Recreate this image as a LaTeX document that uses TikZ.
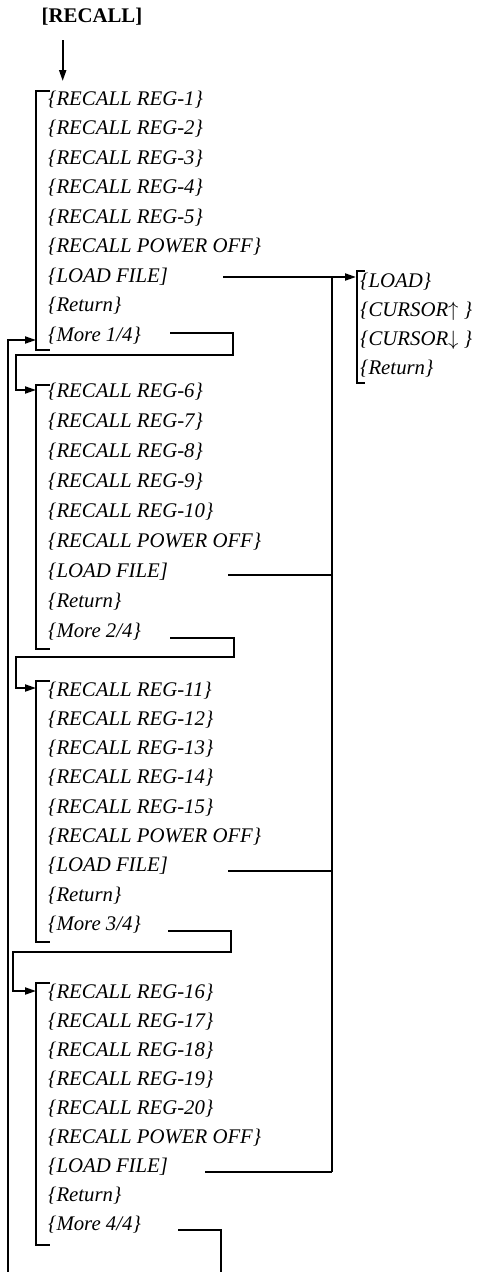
\documentclass[tikz,border=0pt]{standalone}
\usepackage{fontspec}
\setmainfont{Liberation Serif}
\usetikzlibrary{arrows.meta}
\newcommand\mkgroup[5]{%
  \foreach \k in {0,...,4}{%
    \pgfmathtruncatemacro\regno{#4+\k}%
    \node[item] (#1-\k) at (48,{#2+7+\k*#3}) {\{RECALL REG-\regno\}};}
  \node[item] (#1-5) at (48,{#2+7+5*#3}) {\{RECALL POWER OFF\}};
  \node[item] (#1-6) at (48,{#2+7+6*#3}) {\{LOAD FILE]};
  \node[item] (#1-7) at (48,{#2+7+7*#3}) {\{Return\}};
  \node[item] (#1-8) at (48,{#2+7+8*#3}) {\{More #5\}};
}
\begin{document}
\begin{tikzpicture}[x=1pt,y=-1pt,
  item/.style={anchor=base west,inner sep=0pt,font=\fontsize{20.8}{25}\selectfont\itshape},
  ttl/.style={anchor=base,inner sep=0pt,font=\fontsize{20.8}{25}\selectfont\bfseries},
  ln/.style={line width=2pt},
  arr/.style={ln,-{Triangle[length=11pt,width=7pt]}}]
\useasboundingbox (0,0) rectangle (487,1272);

% title
\node[ttl] (title) at (92,22) {[RECALL]};
\coordinate (a0) at (62.7,40);
\coordinate (a1) at (62.7,81);
\draw[arr] (a0) -- (a1);

% groups
\mkgroup{g1}{98}{29.5}{1}{1/4}
\mkgroup{g2}{390}{30.1}{6}{2/4}
\mkgroup{g3}{689}{29.3}{11}{3/4}
\mkgroup{g4}{991}{29}{16}{4/4}

% brackets
\draw[ln] (50,91) -- (36,91) -- (36,350) -- (50,350);
\draw[ln] (50,385) -- (36,385) -- (36,649) -- (50,649);
\draw[ln] (50,681) -- (36,681) -- (36,942) -- (50,942);
\draw[ln] (50,983) -- (36,983) -- (36,1245) -- (50,1245);

% sub menu
\node[item] (s0) at (360,287) {\{LOAD\}};
\node[item] (s1) at (360,316) {\{CURSOR$\uparrow$ \}};
\node[item] (s2) at (360,345) {\{CURSOR$\downarrow$ \}};
\node[item] (s3) at (360,374) {\{Return\}};
\draw[ln] (365,271) -- (357,271) -- (357,383) -- (365,383);

% LOAD FILE connectors
\coordinate (l1) at (223,277);
\coordinate (sub) at (356,277);
\coordinate (vt) at (331.5,277);
\coordinate (vb) at (331.5,1172);
\coordinate (l2) at (228,575);
\coordinate (l2e) at (331.5,575);
\coordinate (l3) at (228,871);
\coordinate (l3e) at (331.5,871);
\coordinate (l4) at (205,1172);
\draw[arr] (l1) -- (sub);
\draw[ln] (vt) -- (vb);
\draw[ln] (l2) -- (l2e);
\draw[ln] (l3) -- (l3e);
\draw[ln] (l4) -- (vb);

% More loops
\coordinate (m1) at (170,333);
\coordinate (e2) at (36,390);
\draw[arr] (m1) -- (233,333) -- (233,355) -- (16,355) -- (16,390) -- (e2);
\coordinate (m2) at (170,638);
\coordinate (e3) at (36,688);
\draw[arr] (m2) -- (234,638) -- (234,657) -- (16,657) -- (16,688) -- (e3);
\coordinate (m3) at (168,931);
\coordinate (e4) at (36,991);
\draw[arr] (m3) -- (231,931) -- (231,952) -- (13,952) -- (13,991) -- (e4);
\coordinate (m4) at (178,1230);
\coordinate (m4e) at (221,1272);
\draw[ln] (m4) -- (221,1230) -- (m4e);

% outer return loop
\coordinate (ob) at (7.5,1272);
\coordinate (e1) at (36,340);
\draw[arr] (ob) -- (7.5,340) -- (e1);
\end{tikzpicture}
\end{document}
